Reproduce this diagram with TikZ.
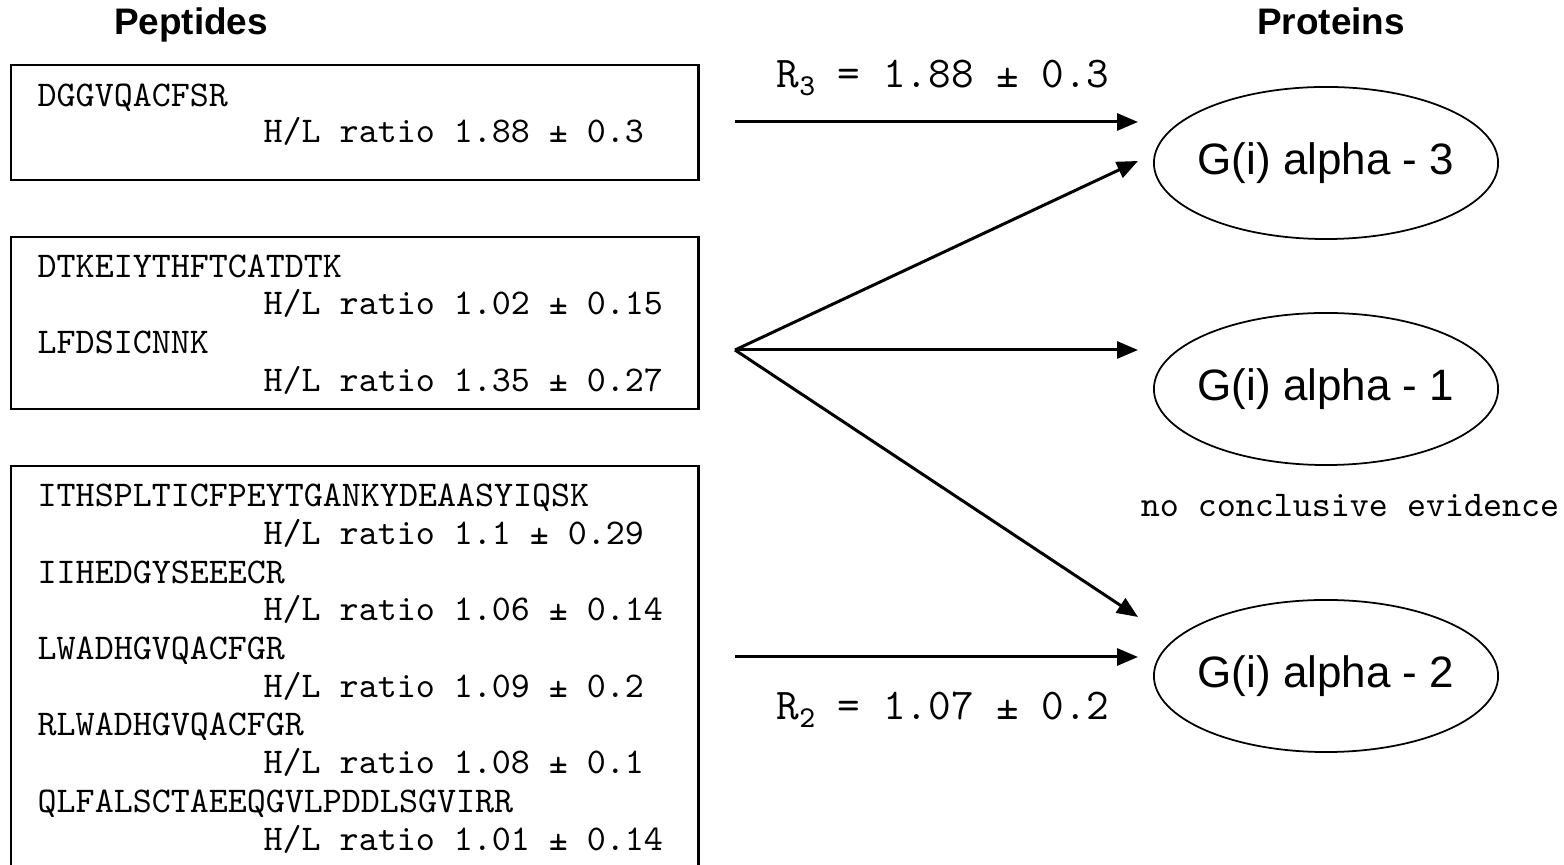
\documentclass[tikz,border=0pt]{standalone}
\usepackage{fontspec}
\setmainfont{Liberation Sans}
\setmonofont{Latin Modern Mono}
\usetikzlibrary{shapes.geometric,arrows.meta}
\newcommand\lowidx[1]{\raisebox{-0.45ex}{\fontsize{8.6pt}{9pt}\selectfont #1}}
\begin{document}
\begin{tikzpicture}[x=0.01cm,y=-0.01cm,
  seq/.style={anchor=mid west, inner sep=0, font=\ttfamily\fontsize{10.3pt}{11pt}\selectfont},
  peplist/.style={draw, line width=0.6pt, anchor=north west, minimum width=6.87cm, inner sep=0},
  prot/.style={ellipse, draw, line width=0.5pt, minimum width=3.44cm, minimum height=1.52cm,
    inner sep=0, font=\fontsize{12.5pt}{14pt}\selectfont},
  head/.style={anchor=base, font=\bfseries\fontsize{10.5pt}{12pt}\selectfont, inner sep=0},
  link/.style={line width=0.85pt, -{Triangle[length=0.21cm,width=0.17cm]}},
  ratio/.style={font=\ttfamily\fontsize{12.5pt}{13pt}\selectfont, inner sep=0}]
\useasboundingbox (0,0) rectangle (1564,865);

% column headings
\node[head] (hpep) at (191,35) {Peptides};
\node[head] (hprot) at (1331,35) {Proteins};

% peptide boxes
\node[peplist, minimum height=1.15cm] (box1) at (10,64) {};
\node[peplist, minimum height=1.72cm] (box2) at (10,236) {};
\node[peplist, minimum height=4.40cm] (box3) at (10,465) {};

% box 1
\node[seq] (p1) at (37,97) {DGGVQACFSR};
\node[seq] (r1) at (263,133) {H/L ratio 1.88 ± 0.3};

% box 2
\node[seq] (p2) at (37,268) {DTKEIYTHFTCATDTK};
\node[seq] (r2) at (263,305) {H/L ratio 1.02 ± 0.15};
\node[seq] (p3) at (37,344) {LFDSICNNK};
\node[seq] (r3) at (263,382) {H/L ratio 1.35 ± 0.27};

% box 3
\node[seq] (p4) at (37,497) {ITHSPLTICFPEYTGANKYDEAASYIQSK};
\node[seq] (r4) at (263,535) {H/L ratio 1.1 ± 0.29};
\node[seq] (p5) at (37,574) {IIHEDGYSEEECR};
\node[seq] (r5) at (263,611) {H/L ratio 1.06 ± 0.14};
\node[seq] (p6) at (37,650) {LWADHGVQACFGR};
\node[seq] (r6) at (263,688) {H/L ratio 1.09 ± 0.2};
\node[seq] (p7) at (37,726) {RLWADHGVQACFGR};
\node[seq] (r7) at (263,764) {H/L ratio 1.08 ± 0.1};
\node[seq] (p8) at (37,803) {QLFALSCTAEEQGVLPDDLSGVIRR};
\node[seq] (r8) at (263,841) {H/L ratio 1.01 ± 0.14};

% proteins (zero-width text so the outline keeps its own size)
\node[prot] (g3) at (1326,163) {\makebox[0pt]{G(i) alpha - 3}};
\node[prot] (g1) at (1326,389) {\makebox[0pt]{G(i) alpha - 1}};
\node[prot] (g2) at (1326,676) {\makebox[0pt]{G(i) alpha - 2}};
\node[seq, anchor=center] (nce) at (1350,506) {no conclusive evidence};

% arrow ends
\coordinate (s1) at (735,122);
\coordinate (fan) at (735,350);
\coordinate (s2) at (735,657);
\coordinate (e3a) at (1138,122);
\coordinate (e3b) at (1138,161);
\coordinate (e1) at (1138,350);
\coordinate (e2a) at (1138,617);
\coordinate (e2b) at (1138,657);

\draw[link] (s1) -- (e3a);
\draw[link] (fan) -- (e3b);
\draw[link] (fan) -- (e1);
\draw[link] (fan) -- (e2a);
\draw[link] (s2) -- (e2b);

% ratio labels
\node[ratio, anchor=mid west] (lab3) at (776,78) {R\lowidx{3} = 1.88 ± 0.3};
\node[ratio, anchor=mid west] (lab2) at (776,710) {R\lowidx{2} = 1.07 ± 0.2};
\end{tikzpicture}
\end{document}
